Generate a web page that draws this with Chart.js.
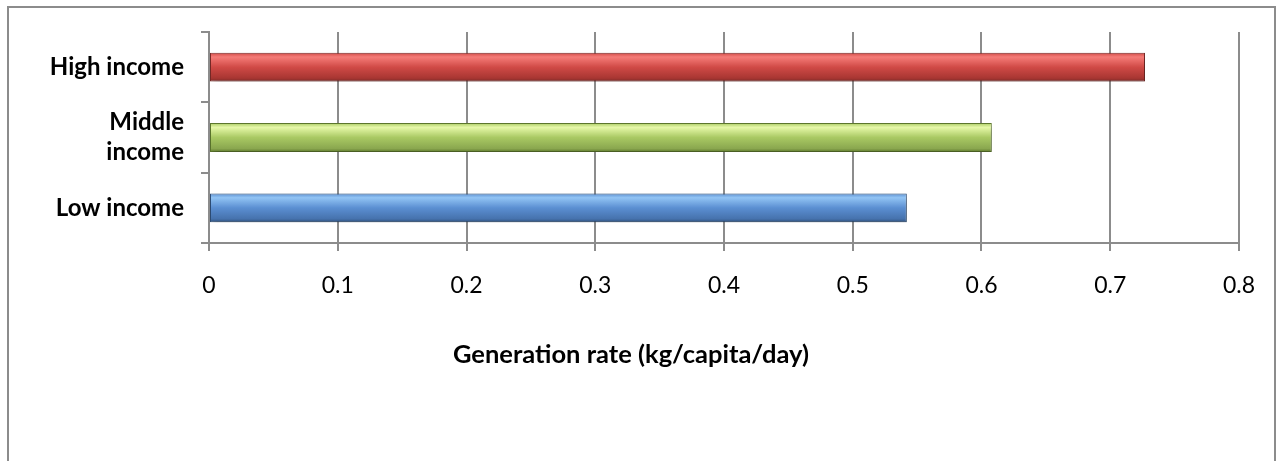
<!DOCTYPE html>
<html>
<head>
<meta charset="utf-8">
<script src="https://cdn.jsdelivr.net/npm/chart.js@4"></script>
<style>
    html, body { margin: 0; padding: 0; background: #fff; }
    #wrap { position: relative; width: 1283px; height: 461px; }
    #frame {
        position: absolute; left: 7px; top: 6px; width: 1269px; height: 470px;
        border: 2px solid #8c8c8c; border-bottom: none; box-sizing: border-box;
    }
    canvas { position: absolute; left: 0; top: 0; }
</style>
</head>
<body>
<div id="wrap">
    <div id="frame"></div>
    <canvas id="boxChartRate" width="1283" height="461"></canvas>
</div>
<script>
const categorias = [['High income'], ['Middle', 'income'], ['Low income']];
const taxas = [0.727, 0.608, 0.542];
const xTicks = [0, 0.1, 0.2, 0.3, 0.4, 0.5, 0.6, 0.7, 0.8];
const tituloX = 'Generation rate (kg/capita/day)';

// highlight / middle / bottom / border per bar
const cores = [
    ['#f57c78', '#d04a46', '#a83632', '#7a2a27'],
    ['#e6f8a8', '#a9c963', '#8aa74f', '#5f7a2e'],
    ['#92c4f4', '#5b8fd2', '#4672ad', '#2f507a']
];

const gridCor = '#8c8c8c';
const fonte = 'Lato';

function gradiente(ctx) {
    const chart = ctx.chart;
    const i = ctx.dataIndex;
    const c = cores[i];
    if (!chart.chartArea) return c[1];
    const y = chart.scales.y.getPixelForValue(i);
    const h = 29;
    const g = chart.ctx.createLinearGradient(0, y - h / 2, 0, y + h / 2);
    g.addColorStop(0, c[1]);
    g.addColorStop(0.15, c[0]);
    g.addColorStop(0.5, c[1]);
    g.addColorStop(0.88, c[2]);
    g.addColorStop(1, c[3]);
    return g;
}

const sombra = {
    id: 'sombra',
    beforeDatasetsDraw(chart) {
        const ctx = chart.ctx;
        ctx.save();
        ctx.shadowColor = 'rgba(0,0,0,0.28)';
        ctx.shadowBlur = 7;
        ctx.shadowOffsetX = 2;
        ctx.shadowOffsetY = 4;
    },
    afterDatasetsDraw(chart) {
        chart.ctx.restore();
    }
};

// axis title sits left of the plot centre in the original
const tituloEixo = {
    id: 'tituloEixo',
    afterDraw(chart) {
        const ctx = chart.ctx;
        ctx.save();
        ctx.font = 'bold 25.5px ' + fonte;
        ctx.fillStyle = '#000';
        ctx.textAlign = 'center';
        ctx.textBaseline = 'middle';
        ctx.fillText(tituloX, 631, 355);
        ctx.restore();
    }
};

const canvas = document.getElementById('boxChartRate');
new Chart(canvas, {
    type: 'bar',
    data: {
        labels: categorias,
        datasets: [{
            data: taxas,
            backgroundColor: gradiente,
            borderColor: cores.map(c => c[3]),
            borderWidth: 1,
            borderSkipped: false,
            categoryPercentage: 1,
            barPercentage: 0.41
        }]
    },
    plugins: [sombra, tituloEixo],
    options: {
        indexAxis: 'y',
        responsive: false,
        animation: false,
        layout: { padding: { top: 29, right: 44, bottom: 91, left: 0 } },
        plugins: {
            legend: { display: false },
            tooltip: { enabled: false }
        },
        scales: {
            x: {
                min: 0,
                max: 0.8,
                afterBuildTicks: s => { s.ticks = xTicks.map(v => ({ value: v })); },
                afterFit: s => { s.height = 127; },
                grid: { color: gridCor, lineWidth: 2, tickLength: 8 },
                border: { color: gridCor, width: 2 },
                ticks: {
                    color: '#000',
                    padding: 21,
                    font: { family: fonte, size: 23 },
                    maxRotation: 0,
                    callback: v => String(v)
                }
            },
            y: {
                afterFit: s => { s.width = 209; },
                grid: { color: gridCor, lineWidth: 2, tickLength: 8, drawOnChartArea: false, offset: true },
                border: { color: gridCor, width: 2 },
                ticks: {
                    color: '#000',
                    padding: 17,
                    font: { family: fonte, size: 24, weight: 'bold', lineHeight: 1.25 }
                }
            }
        }
    }
});
</script>
</body>
</html>
